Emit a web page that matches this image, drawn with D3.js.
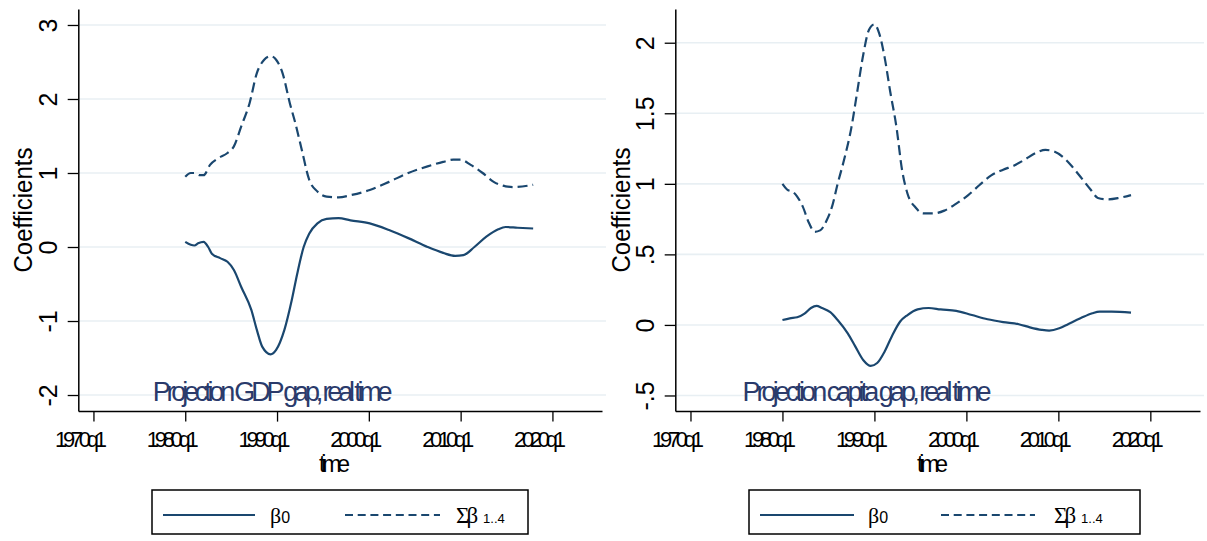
<!DOCTYPE html>
<html>
<head>
<meta charset="utf-8">
<script src="https://cdn.jsdelivr.net/npm/d3@7"></script>
<style>
  html, body { margin: 0; padding: 0; background: #fff; }
  svg { display: block; }
  text { font-family: "Liberation Sans", Arial, sans-serif; }
</style>
</head>
<body>
<script>
// Time axis (shared by both panels)
const tickYears = [1970, 1980, 1990, 2000, 2010, 2020];
const tickLabels = ["1970q1", "1980q1", "1990q1", "2000q1", "2010q1", "2020q1"];

// Panel 1: projection on the GDP gap
const gdpYTicks = [-2, -1, 0, 1, 2, 3];
const gdpYLabels = ["-2", "-1", "0", "1", "2", "3"];
const gdpB0Years = [1980.0, 1980.6, 1981.0, 1981.4, 1982.0, 1982.5, 1982.9, 1983.8, 1984.6, 1985.3, 1986.1, 1987.2, 1987.8, 1988.4, 1989.3, 1989.9, 1990.8, 1991.6, 1992.2, 1992.9, 1993.5, 1994.4, 1995.4, 1996.7, 1998.0, 2000.1, 2002.2, 2004.3, 2006.4, 2008.1, 2009.4, 2010.3, 2011.5, 2012.8, 2014.1, 2014.9, 2016.2, 2017.9];
const gdpB0 = [0.07, 0.03, 0.02, 0.05, 0.07, 0.0, -0.09, -0.15, -0.2, -0.31, -0.54, -0.85, -1.12, -1.35, -1.45, -1.39, -1.12, -0.72, -0.36, 0.0, 0.18, 0.32, 0.38, 0.39, 0.36, 0.32, 0.23, 0.12, 0.0, -0.08, -0.12, -0.11, 0.0, 0.14, 0.24, 0.27, 0.26, 0.25];
const gdpSumYears = [1980.0, 1980.6, 1981.0, 1981.6, 1982.0, 1982.7, 1983.6, 1984.6, 1985.3, 1986.1, 1987.0, 1987.8, 1988.6, 1989.3, 1989.9, 1990.6, 1991.4, 1992.0, 1992.7, 1993.5, 1994.4, 1995.4, 1996.7, 1998.0, 2000.1, 2002.2, 2004.3, 2006.4, 2008.1, 2009.2, 2010.0, 2011.1, 2012.4, 2013.6, 2014.9, 2015.8, 2017.9];
const gdpSum = [0.95, 1.0, 1.0, 0.97, 0.97, 1.11, 1.2, 1.27, 1.36, 1.63, 1.94, 2.35, 2.53, 2.58, 2.53, 2.35, 1.94, 1.67, 1.31, 0.91, 0.75, 0.68, 0.67, 0.70, 0.77, 0.88, 1.0, 1.09, 1.15, 1.18, 1.18, 1.11, 1.0, 0.88, 0.82, 0.81, 0.84];

// Panel 2: projection on the capita gap
const capYTicks = [-0.5, 0, 0.5, 1, 1.5, 2];
const capYLabels = ["-.5", "0", ".5", "1", "1.5", "2"];
const capB0Years = [1980.0, 1980.8, 1981.6, 1982.4, 1983.1, 1983.7, 1984.3, 1985.2, 1986.0, 1987.1, 1987.9, 1988.8, 1989.6, 1990.3, 1991.1, 1991.9, 1992.8, 1993.6, 1994.7, 1995.9, 1997.2, 1998.9, 2000.6, 2002.3, 2004.0, 2005.7, 2006.9, 2008.2, 2009.0, 2010.1, 2011.1, 2012.4, 2013.7, 2014.5, 2015.8, 2017.9];
const capB0 = [0.035, 0.047, 0.054, 0.08, 0.12, 0.135, 0.12, 0.09, 0.035, -0.06, -0.15, -0.25, -0.29, -0.27, -0.19, -0.08, 0.024, 0.07, 0.11, 0.12, 0.11, 0.10, 0.07, 0.04, 0.02, 0.005, -0.017, -0.035, -0.04, -0.024, 0.007, 0.047, 0.083, 0.094, 0.094, 0.087];
const capSumYears = [1980.0, 1980.5, 1981.2, 1981.6, 1982.2, 1982.9, 1983.5, 1984.1, 1984.8, 1985.4, 1986.0, 1986.7, 1987.5, 1988.1, 1988.8, 1989.4, 1990.0, 1990.5, 1991.1, 1991.7, 1992.4, 1993.0, 1993.6, 1994.5, 1995.3, 1996.4, 1997.6, 1998.9, 2000.2, 2001.4, 2002.7, 2004.0, 2005.2, 2006.3, 2007.6, 2008.6, 2009.5, 2010.5, 2011.4, 2012.4, 2013.5, 2014.3, 2015.4, 2016.6, 2017.9];
const capSum = [1.0, 0.96, 0.94, 0.91, 0.84, 0.72, 0.66, 0.67, 0.74, 0.84, 1.0, 1.17, 1.40, 1.64, 1.92, 2.09, 2.13, 2.07, 1.90, 1.66, 1.40, 1.10, 0.93, 0.83, 0.79, 0.79, 0.81, 0.86, 0.92, 0.99, 1.06, 1.10, 1.13, 1.17, 1.22, 1.24, 1.23, 1.19, 1.13, 1.05, 0.96, 0.90, 0.89, 0.90, 0.92];

const LINE = "#1a476f";
const GRID = "#e8eff3";
const NOTE = "#2a3a6b";

const W = 1207, H = 541;
const svg = d3.select("body").append("svg").attr("width", W).attr("height", H);
svg.append("rect").attr("width", W).attr("height", H).attr("fill", "#fff");

const panels = [
  {
    left: 78.3, right: 602, top: 9, bottom: 411,
    yDomain: [-2.216, 3.216], yTicks: gdpYTicks, yLabels: gdpYLabels,
    b0: gdpB0Years.map((t, i) => [t, gdpB0[i]]),
    sum: gdpSumYears.map((t, i) => [t, gdpSum[i]]),
    note: "Projection GDP gap, real time", noteAt: [1976.45, -2.08], noteLen: 240,
    titleX: 31.5, timeX: 319,
    legend: { x0: 152, x1: 528, solid: [163, 255], b0x: 270, dash: [345, 440], sx: 456 }
  },
  {
    left: 675.3, right: 1200, top: 9, bottom: 411,
    yDomain: [-0.61, 2.239], yTicks: capYTicks, yLabels: capYLabels,
    b0: capB0Years.map((t, i) => [t, capB0[i]]),
    sum: capSumYears.map((t, i) => [t, capSum[i]]),
    note: "Projection capita gap, real time", noteAt: [1975.65, -0.54], noteLen: 249,
    titleX: 629.5, timeX: 917,
    legend: { x0: 749, x1: 1140, solid: [760, 854], b0x: 868, dash: [941, 1035], sx: 1054 }
  }
];

panels.forEach(p => {
  const x = d3.scaleLinear().domain([1968.35, 2025.4]).range([p.left, p.right]);
  const y = d3.scaleLinear().domain(p.yDomain).range([p.bottom, p.top]);
  const g = svg.append("g");

  // horizontal grid
  g.append("g").selectAll("line").data(p.yTicks).join("line")
    .attr("x1", p.left).attr("x2", p.right + 4)
    .attr("y1", d => y(d)).attr("y2", d => y(d))
    .attr("stroke", GRID).attr("stroke-width", 1.6);

  // y axis with rotated labels
  const ya = g.append("g").attr("transform", `translate(${p.left},0)`)
    .call(d3.axisLeft(y).tickValues(p.yTicks).tickSize(10.6).tickSizeOuter(0)
      .tickFormat((d, i) => p.yLabels[i]));
  ya.select(".domain").attr("stroke", "#000").attr("stroke-width", 1.5);
  ya.selectAll(".tick line").attr("stroke", "#000").attr("stroke-width", 1.3);
  ya.selectAll(".tick text")
    .attr("x", null).attr("dy", null)
    .attr("transform", "translate(-21,0) rotate(-90)")
    .attr("text-anchor", "middle")
    .attr("font-size", 25).attr("fill", "#000")
    .style("font-family", "'Liberation Sans', Arial, sans-serif");

  // x axis with condensed labels
  const xa = g.append("g").attr("transform", `translate(0,${p.bottom})`)
    .call(d3.axisBottom(x).tickValues(tickYears).tickSize(10.6).tickSizeOuter(0)
      .tickFormat((d, i) => tickLabels[i]));
  xa.select(".domain").attr("stroke", "#000").attr("stroke-width", 1.5);
  xa.selectAll(".tick line").attr("stroke", "#000").attr("stroke-width", 1.3);
  xa.selectAll(".tick text")
    .attr("x", -39).attr("y", 36).attr("dy", null)
    .attr("text-anchor", "start")
    .attr("font-size", 22).attr("fill", "#000")
    .attr("textLength", 52).attr("lengthAdjust", "spacing")
    .style("font-family", "'Liberation Sans', Arial, sans-serif");

  // axis titles
  g.append("text")
    .attr("transform", `translate(${p.titleX},210) rotate(-90)`)
    .attr("text-anchor", "middle").attr("font-size", 25)
    .attr("textLength", 125).attr("lengthAdjust", "spacingAndGlyphs")
    .text("Coefficients");
  g.append("text")
    .attr("x", p.timeX).attr("y", 472).attr("font-size", 23)
    .attr("textLength", 31).attr("lengthAdjust", "spacing")
    .text("time");

  // series
  const line = d3.line().x(d => x(d[0])).y(d => y(d[1])).curve(d3.curveMonotoneX);
  g.append("path").datum(p.b0).attr("d", line)
    .attr("fill", "none").attr("stroke", LINE).attr("stroke-width", 2.2);
  g.append("path").datum(p.sum).attr("d", line)
    .attr("fill", "none").attr("stroke", LINE).attr("stroke-width", 2.2)
    .attr("stroke-dasharray", "10,5");

  // annotation
  g.append("text")
    .attr("x", x(p.noteAt[0])).attr("y", y(p.noteAt[1]))
    .attr("font-size", 27).attr("fill", NOTE)
    .attr("textLength", p.noteLen).attr("lengthAdjust", "spacing")
    .text(p.note);

  // legend
  const L = p.legend;
  const lg = g.append("g");
  lg.append("rect").attr("x", L.x0).attr("y", 490).attr("width", L.x1 - L.x0).attr("height", 44)
    .attr("fill", "#fff").attr("stroke", "#000").attr("stroke-width", 1.5);
  lg.append("line").attr("x1", L.solid[0]).attr("x2", L.solid[1]).attr("y1", 515).attr("y2", 515)
    .attr("stroke", LINE).attr("stroke-width", 2);
  lg.append("line").attr("x1", L.dash[0]).attr("x2", L.dash[1]).attr("y1", 515).attr("y2", 515)
    .attr("stroke", LINE).attr("stroke-width", 2).attr("stroke-dasharray", "8,4.7");
  const t1 = lg.append("text").attr("x", L.b0x).attr("y", 523).attr("fill", "#000");
  t1.append("tspan").attr("font-size", 22).style("font-family", "'Liberation Serif', 'Times New Roman', serif").text("β");
  t1.append("tspan").attr("font-size", 16).text("0");
  const t2 = lg.append("text").attr("x", L.sx).attr("y", 523).attr("fill", "#000");
  t2.append("tspan").attr("font-size", 23).attr("letter-spacing", -3)
    .style("font-family", "'Liberation Serif', 'Times New Roman', serif").text("Σβ");
  t2.append("tspan").attr("dx", 8).attr("font-size", 13).text("1..4");
});
</script>
</body>
</html>
